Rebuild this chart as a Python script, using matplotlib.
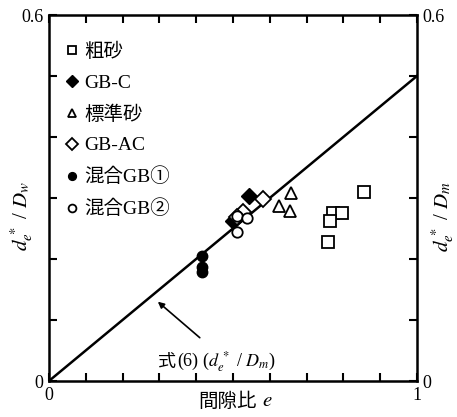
import numpy as np
import matplotlib
matplotlib.use("Agg")
import matplotlib.pyplot as plt

plt.rcParams['font.family'] = ['Liberation Serif', 'Noto Sans CJK JP', 'DejaVu Sans']
plt.rcParams['mathtext.fontset'] = 'stix'

# data (void ratio e, de*/D)
coarse_e = [0.856, 0.772, 0.796, 0.764, 0.758]
coarse_y = [0.310, 0.275, 0.275, 0.262, 0.228]

gbc_e = [0.543, 0.500]
gbc_y = [0.303, 0.262]

std_e = [0.658, 0.625, 0.655]
std_y = [0.308, 0.287, 0.279]

gbac_e = [0.582, 0.527, 0.511]
gbac_y = [0.298, 0.277, 0.269]

mix1_e = [0.416, 0.416, 0.416]
mix1_y = [0.205, 0.187, 0.179]

mix2_e = [0.511, 0.538, 0.511]
mix2_y = [0.270, 0.267, 0.244]

# eq.(6) line
line_e = [0.0, 1.0]
line_y = [0.0, 0.5]

fig = plt.figure(figsize=(4.57, 4.17), dpi=100)
ax = fig.add_axes([0.107, 0.0863, 0.8053, 0.8777])

ax.plot(line_e, line_y, color='black', lw=1.8, zorder=1)

ax.plot(coarse_e, coarse_y, 's', ms=8, mfc='white', mec='black', mew=1.3, ls='none', label='粗砂')
ax.plot(gbc_e, gbc_y, 'D', ms=8.5, mfc='black', mec='black', ls='none', label='GB-C')
ax.plot(std_e, std_y, '^', ms=8, mfc='white', mec='black', mew=1.3, ls='none', label='標準砂')
ax.plot(gbac_e, gbac_y, 'D', ms=8.5, mfc='white', mec='black', mew=1.3, ls='none', label='GB-AC')
ax.plot(mix1_e, mix1_y, 'o', ms=7.5, mfc='black', mec='black', ls='none', label='混合GB①')
ax.plot(mix2_e, mix2_y, 'o', ms=7.5, mfc='white', mec='black', mew=1.3, ls='none', label='混合GB②')

ax.set_xlim(0, 1)
ax.set_ylim(0, 0.6)
ax.set_xticks(np.arange(0, 1.01, 0.1))
ax.set_xticklabels(['0'] + [''] * 9 + ['1'])
ax.set_yticks(np.arange(0, 0.61, 0.1))
ax.set_yticklabels(['0'] + [''] * 5 + ['0.6'])
ax.tick_params(direction='in', length=6, width=1.5, top=True, right=True,
               labelright=True, labelsize=13, pad=4)
for s in ax.spines.values():
    s.set_linewidth(1.8)

# x label: CJK part and italic e as two texts
ax.text(0.565, -0.057, '間隙比', fontsize=14, ha='right', va='center',
        family='Noto Sans CJK JP', transform=ax.transAxes)
ax.text(0.578, -0.057, '$e$', fontsize=15, ha='left', va='center',
        transform=ax.transAxes)

# y labels on both sides
ax.text(-0.073, 0.45, '$d_e^{\\,*}$ / $D_w$', fontsize=15, rotation=90,
        transform=ax.transAxes, ha='center', va='center')
ax.text(1.07, 0.45, '$d_e^{\\,*}$ / $D_m$', fontsize=15, rotation=90,
        transform=ax.transAxes, ha='center', va='center')

# annotation for eq.(6)
ax.text(0.345, 0.031, '式', fontsize=13, ha='right', va='center',
        family='Noto Sans CJK JP')
ax.text(0.347, 0.031, '(6) ($d_e^{\\,*}$ / $D_m$)', fontsize=13, ha='left', va='center')
ax.annotate('', xy=(0.296, 0.130), xytext=(0.41, 0.071),
            arrowprops=dict(arrowstyle='-|>', color='black', lw=1.2,
                            shrinkA=0, shrinkB=0, mutation_scale=9))

ax.legend(loc='upper left', frameon=False, fontsize=14, handletextpad=0.15,
          labelspacing=0.68, borderaxespad=0.0, handlelength=1.0,
          markerscale=0.75, bbox_to_anchor=(0.015, 0.945))

fig.savefig('out.png', dpi=100)
